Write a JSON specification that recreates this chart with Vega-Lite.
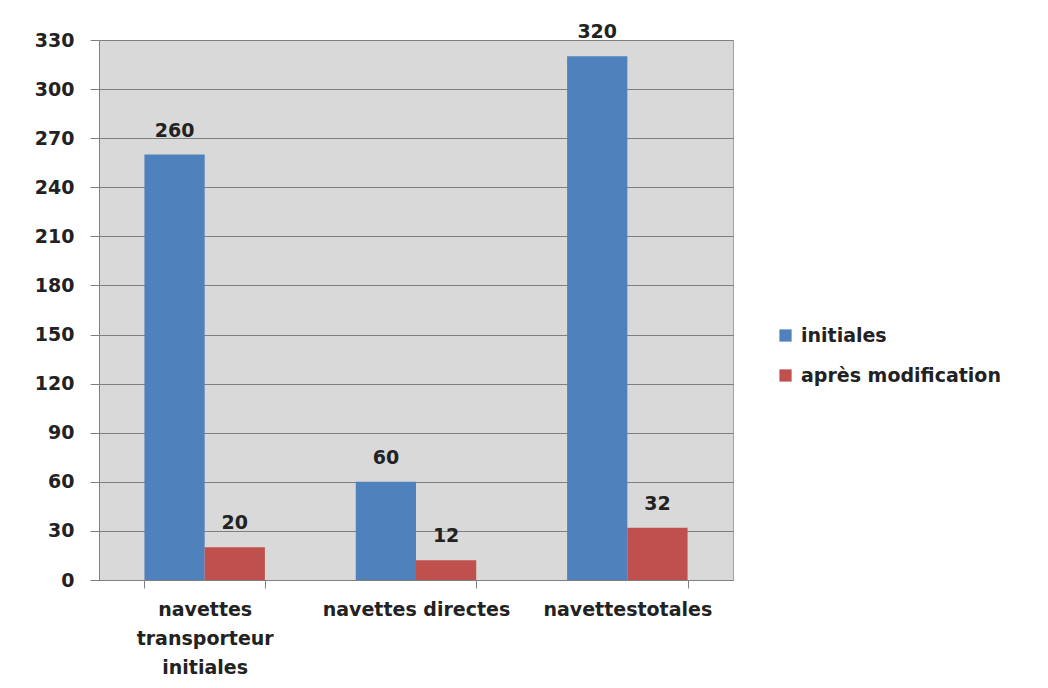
{
  "$schema": "https://vega.github.io/schema/vega-lite/v6.json",
  "width": 634,
  "height": 540,
  "autosize": {"type": "none"},
  "padding": {"left": 99, "top": 40, "right": 315, "bottom": 108},
  "background": "white",
  "config": {
    "font": "DejaVu Sans",
    "view": {"fill": "#d9d9d9", "stroke": "#a0a0a0", "strokeWidth": 1},
    "axis": {"labelFont": "DejaVu Sans", "labelFontWeight": "bold", "labelFontSize": 19, "labelColor": "#222222", "labelLimit": 0}
  },
  "data": {
    "values": [
      {"categorie": "navettes transporteur initiales", "serie": "initiales", "valeur": 260},
      {"categorie": "navettes transporteur initiales", "serie": "après modification", "valeur": 20},
      {"categorie": "navettes directes", "serie": "initiales", "valeur": 60},
      {"categorie": "navettes directes", "serie": "après modification", "valeur": 12},
      {"categorie": "navettestotales", "serie": "initiales", "valeur": 320},
      {"categorie": "navettestotales", "serie": "après modification", "valeur": 32}
    ]
  },
  "encoding": {
    "x": {
      "field": "categorie",
      "type": "nominal",
      "sort": null,
      "title": null,
      "scale": {"paddingInner": 0.43, "paddingOuter": 0.215},
      "axis": {
        "labelAngle": 0,
        "labelPadding": 12,
        "labelLimit": 0,
        "tickBand": "extent",
        "tickSize": 8,
        "tickColor": "#808080",
        "domainColor": "#808080",
        "labelLineHeight": 29,
        "labelExpr": "datum.label == 'navettes transporteur initiales' ? ['navettes', 'transporteur', 'initiales'] : datum.label"
      }
    },
    "xOffset": {"field": "serie", "type": "nominal", "sort": ["initiales", "après modification"], "scale": {"paddingInner": 0}},
    "y": {
      "field": "valeur",
      "type": "quantitative",
      "title": null,
      "scale": {"domain": [0, 330], "nice": false},
      "axis": {
        "values": [0, 30, 60, 90, 120, 150, 180, 210, 240, 270, 300, 330],
        "gridColor": "#7f7f7f",
        "gridWidth": 1,
        "tickColor": "#7f7f7f",
        "tickSize": 9,
        "domainColor": "#808080",
        "labelPadding": 16
      }
    }
  },
  "layer": [
    {
      "mark": {"type": "bar"},
      "encoding": {
        "color": {
          "field": "serie",
          "type": "nominal",
          "sort": ["initiales", "après modification"],
          "scale": {"domain": ["initiales", "après modification"], "range": ["#4f81bd", "#c0504d"]},
          "legend": {
            "title": null,
            "orient": "none",
            "legendX": 677,
            "legendY": 286,
            "symbolType": "square",
            "symbolSize": 150,
            "symbolStrokeWidth": 0,
            "labelFont": "DejaVu Sans",
            "labelFontWeight": "bold",
            "labelFontSize": 19,
            "labelColor": "#222222",
            "labelLimit": 0,
            "rowPadding": 20,
            "labelOffset": 6
          }
        }
      }
    },
    {
      "mark": {"type": "text", "dy": -24, "font": "DejaVu Sans", "fontWeight": "bold", "fontSize": 19, "color": "#222222"},
      "encoding": {"text": {"field": "valeur", "type": "quantitative"}}
    }
  ]
}
